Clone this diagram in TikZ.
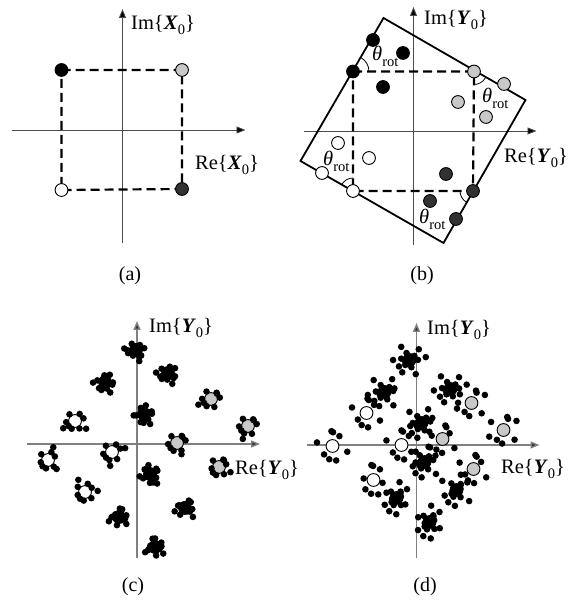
\documentclass[tikz,border=0pt]{standalone}
\usepackage{fontspec}
\setmainfont{Liberation Serif}
\usetikzlibrary{arrows.meta}
\definecolor{lg}{RGB}{200,200,200}
\definecolor{dg}{RGB}{50,50,50}
\tikzset{
  axis/.style={draw=black!70, line width=0.8pt, -{Triangle[length=9pt,width=7pt,fill=black]}},
  axisg/.style={draw=black!50, line width=1.4pt, -{Triangle[length=9pt,width=7pt,fill=black!80]}},
  dsq/.style={dash pattern=on 9pt off 5pt, line width=2.2pt},
  rsq/.style={line width=1.8pt, line join=miter},
  ang/.style={line width=0.8pt},
  lbl/.style={font=\fontsize{20.5}{23}\selectfont, inner sep=0pt, anchor=base west},
  captxt/.style={font=\fontsize{20}{23}\selectfont, inner sep=0pt, anchor=base},
  big/.style={draw=black, line width=0.9pt},
}
\newcommand\subz[1]{\raisebox{-4.5pt}{\fontsize{14.5}{14.5}\selectfont #1}}
\newcommand\subr{\raisebox{-6pt}{\fontsize{14.5}{14.5}\selectfont rot}}
\newcommand\bd[3]{\filldraw[big, fill=#3] (#1,#2) circle (6.4pt);}
% scatter: x, y, count, rmin, rmax, phase
\newcommand\scat[6]{%
  \foreach \k in {1,...,#3}{%
    \pgfmathsetmacro\myang{#6*7.3+\k*137.508+23*sin(\k*91)}%
    \pgfmathsetmacro\myfr{mod(abs(\k*0.7548+(#6)*0.0137),1)}%
    \pgfmathsetmacro\myrad{#4+(#5-#4)*sqrt(\myfr)}%
    \fill (#1,#2) ++(\myang:\myrad pt) circle (3.3pt);
  }}
\begin{document}
\begin{tikzpicture}[x=1pt,y=1pt]
\useasboundingbox (0,0) rectangle (573,602);
% ---------------- panel (a)
\begin{scope}[shift={(122.5,472)}]
  \coordinate (ax0) at (-111,0); \coordinate (ax1) at (123,0);
  \coordinate (ay0) at (0,-113); \coordinate (ay1) at (0,121);
  \draw[axis] (ax0) -- (ax1);
  \draw[axis] (ay0) -- (ay1);
  \coordinate (a1) at (-61,60); \coordinate (a2) at (59.5,60);
  \coordinate (a3) at (-61,-60); \coordinate (a4) at (59.5,-59);
  \draw[dsq] (a1) -- (a2) -- (a4) -- (a3) -- cycle;
  \bd{-61}{60}{black}
  \bd{59.5}{60}{lg}
  \bd{-61}{-60}{white}
  \bd{59.5}{-59}{dg}
\end{scope}
\node[lbl] (ima) at (131,572) {Im\{\textbf{\textit{X}}\subz{0}\}};
\node[lbl] (rea) at (195,432) {Re\{\textbf{\textit{X}}\subz{0}\}};
\node[captxt] (capa) at (130,321) {(a)};
% ---------------- panel (b)
\begin{scope}[shift={(413.5,471)}]
  \coordinate (bx0) at (-110,0); \coordinate (bx1) at (123,0);
  \coordinate (by0) at (0,-114); \coordinate (by1) at (0,124);
  \draw[axis] (bx0) -- (bx1);
  \draw[axis] (by0) -- (by1);
  \coordinate (rt) at (-30,113); \coordinate (rr) at (112,31);
  \coordinate (rb) at (30,-112); \coordinate (rl) at (-113,-30);
  \draw[rsq] (rt) -- (rr) -- (rb) -- (rl) -- cycle;
  \coordinate (b1) at (-60.5,59.5); \coordinate (b2) at (60.5,59.5);
  \coordinate (b3) at (-60.5,-60); \coordinate (b4) at (59.5,-60);
  \draw[dsq] (b1) -- (b2) -- (b4) -- (b3) -- cycle;
  \draw[ang] (b1) ++(16,0) arc (0:60:16pt);
  \draw[ang] (b2) ++(0,-13) arc (270:330:13pt);
  \draw[ang] (b3) ++(0,13) arc (90:150:13pt);
  \draw[ang] (b4) ++(-13,0) arc (180:240:13pt);
  % black
  \bd{-40.5}{91}{black} \bd{-10.5}{78}{black} \bd{-60.5}{59.5}{black} \bd{-30.5}{44}{black}
  % light gray
  \bd{60.5}{59.5}{lg} \bd{90.5}{47}{lg} \bd{44.5}{29}{lg} \bd{72.5}{14}{lg}
  % white
  \bd{-75.5}{-12}{white} \bd{-44.5}{-27}{white} \bd{-91.5}{-42}{white} \bd{-60.5}{-60}{white}
  % dark gray
  \bd{32.5}{-43}{dg} \bd{59.5}{-60}{dg} \bd{16.5}{-70}{dg} \bd{42.5}{-88}{dg}
\end{scope}
\node[lbl] (imb) at (424,577) {Im\{\textbf{\textit{Y}}\subz{0}\}};
\node[lbl] (reb) at (504,439) {Re\{\textbf{\textit{Y}}\subz{0}\}};
\node[lbl] (t1) at (372,541) {\textit{θ}\subr};
\node[lbl] (t2) at (482,499) {\textit{θ}\subr};
\node[lbl] (t3) at (323,436) {\textit{θ}\subr};
\node[lbl] (t4) at (419,378) {\textit{θ}\subr};
\node[captxt] (capb) at (422,321) {(b)};
% ---------------- panel (c)
\begin{scope}[shift={(137,158)}]
  \coordinate (cx0) at (-110,0); \coordinate (cx1) at (123,0);
  \coordinate (cy0) at (0,-114); \coordinate (cy1) at (0,123);
  \draw[axisg] (cx0) -- (cx1);
  \draw[axisg] (cy0) -- (cy1);
  % black clusters
  \foreach \x/\y [count=\i] in {-1/94, 31/71, -32/62, 7/30, 13/-30, 48/-64, -18/-73, 18/-103}{
    \bd{\x}{\y}{black}
    \scat{\x}{\y}{10}{3}{9}{\i*3}
    \scat{\x}{\y}{2}{10}{12}{\i*5+1}
  }
  % gray clusters
  \foreach \x/\y [count=\i] in {74/45, 111/18, 40/1, 82/-23}{
    \bd{\x}{\y}{lg}
    \scat{\x}{\y}{8}{7.5}{9}{\i*4+2}
    \scat{\x}{\y}{1}{12}{14}{\i*6}
  }
  % white clusters
  \foreach \x/\y [count=\i] in {-62/23, -25/-8, -89/-16, -52/-48}{
    \bd{\x}{\y}{white}
    \scat{\x}{\y}{7}{7.5}{9}{\i*5+3}
    \scat{\x}{\y}{2}{12}{14}{\i*7}
  }
\end{scope}
\node[lbl] (imc) at (149,269) {Im\{\textbf{\textit{Y}}\subz{0}\}};
\node[lbl] (rec) at (235,127) {Re\{\textbf{\textit{Y}}\subz{0}\}};
\node[captxt] (capc) at (133,10) {(c)};
% ---------------- panel (d)
\begin{scope}[shift={(416.5,157)}]
  \coordinate (dx0) at (-110,0); \coordinate (dx1) at (123,0);
  \coordinate (dy0) at (0,-113); \coordinate (dy1) at (0,122);
  \draw[axisg] (dx0) -- (dx1);
  \draw[axisg] (dy0) -- (dy1);
  \foreach \x/\y in {-7/85, 34/56, -32/53, 5/22, 8/-17, 40/-45, -20/-53, 13/-77}{
    \bd{\x}{\y}{black}
  }
  % scatter around black centres
  \foreach \x/\y [count=\i] in {-7/85, 34/56, -32/53, 5/22, 8/-17, 40/-45, -20/-53, 13/-77}{
    \scat{\x}{\y}{8}{3}{9}{\i*3+1}
    \scat{\x}{\y}{7}{10}{17}{\i*5+2}
  }
  \foreach \x/\y [count=\i] in {55/42, 87/15, 26/6, 57/-24, -50/32, -15/0, -84/-1, -43/-35}{
    \scat{\x}{\y}{8}{8.5}{16}{\i*4+5}
  }
  % gray and white centres on top
  \foreach \x/\y in {55/42, 87/15, 26/6, 57/-24}{
    \bd{\x}{\y}{lg}
  }
  \foreach \x/\y in {-50/32, -15/0, -84/-1, -43/-35}{
    \bd{\x}{\y}{white}
  }
\end{scope}
\node[lbl] (imd) at (427,267) {Im\{\textbf{\textit{Y}}\subz{0}\}};
\node[lbl] (red) at (501,128) {Re\{\textbf{\textit{Y}}\subz{0}\}};
\node[captxt] (capd) at (425,10) {(d)};
\end{tikzpicture}
\end{document}
